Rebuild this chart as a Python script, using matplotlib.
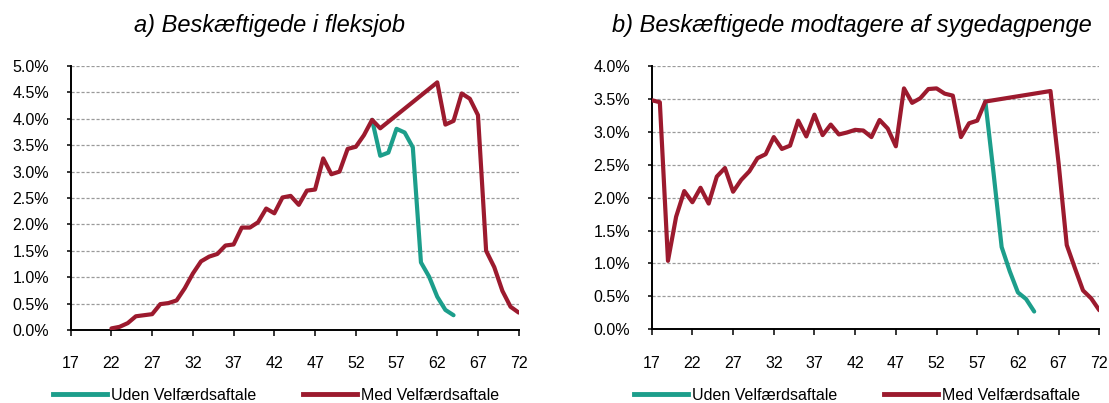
import matplotlib
matplotlib.use('Agg')
import matplotlib.pyplot as plt
from matplotlib.ticker import FuncFormatter, MultipleLocator
from matplotlib.lines import Line2D

plt.rcParams['font.family'] = ['Liberation Sans', 'DejaVu Sans']

# ---------------- data (percent) ----------------
x_ticks = [17, 22, 27, 32, 37, 42, 47, 52, 57, 62, 67, 72]

a_med_age = [22, 23, 24, 25, 26, 27, 28, 29, 30, 31, 32, 33, 34, 35, 36, 37, 38, 39, 40,
             41, 42, 43, 44, 45, 46, 47, 48, 49, 50, 51, 52, 53, 54, 55, 62, 63, 64, 65,
             66, 67, 68, 69, 70, 71, 72]
a_med = [0.03, 0.06, 0.13, 0.26, 0.28, 0.30, 0.49, 0.51, 0.56, 0.79, 1.07, 1.30, 1.39, 1.44,
         1.60, 1.62, 1.94, 1.94, 2.04, 2.30, 2.21, 2.51, 2.54, 2.37, 2.64, 2.66, 3.25, 2.95,
         3.00, 3.43, 3.47, 3.69, 3.98, 3.82, 4.69, 3.89, 3.96, 4.48, 4.38, 4.07, 1.50, 1.19,
         0.74, 0.44, 0.33]
a_uden_age = [54, 55, 56, 57, 58, 59, 60, 61, 62, 63, 64]
a_uden = [3.98, 3.30, 3.36, 3.81, 3.74, 3.46, 1.28, 1.01, 0.63, 0.38, 0.28]

b_med_age = [17, 18, 19, 20, 21, 22, 23, 24, 25, 26, 27, 28, 29, 30, 31, 32, 33, 34, 35,
             36, 37, 38, 39, 40, 41, 42, 43, 44, 45, 46, 47, 48, 49, 50, 51, 52, 53, 54,
             55, 56, 57, 58, 66, 67, 68, 69, 70, 71, 72]
b_med = [3.48, 3.45, 1.04, 1.71, 2.10, 1.93, 2.15, 1.91, 2.32, 2.45, 2.09, 2.27, 2.40, 2.60,
         2.66, 2.92, 2.74, 2.79, 3.17, 2.93, 3.26, 2.95, 3.11, 2.96, 2.99, 3.03, 3.02, 2.92,
         3.18, 3.05, 2.78, 3.66, 3.44, 3.51, 3.65, 3.66, 3.58, 3.55, 2.92, 3.13, 3.17, 3.46,
         3.62, 2.52, 1.28, 0.93, 0.59, 0.47, 0.29]
b_uden_age = [58, 59, 60, 61, 62, 63, 64]
b_uden = [3.46, 2.38, 1.25, 0.88, 0.56, 0.46, 0.27]

titles = ["a) Beskæftigede i fleksjob", "b) Beskæftigede modtagere af sygedagpenge"]
labels = ["Uden Velfærdsaftale", "Med Velfærdsaftale"]

GREEN = '#1c9e8b'
RED = '#9c1a2e'

W, H = 1109, 403
fig = plt.figure(figsize=(W / 100, H / 100), dpi=100)

def px(x0, y_top, x1, y_bot):
    return [x0 / W, 1 - y_bot / H, (x1 - x0) / W, (y_bot - y_top) / H]

panels = [
    dict(rect=px(70.7, 66, 518.7, 330), ymax=5.0, med=(a_med_age, a_med),
         uden=(a_uden_age, a_uden), title_x=270, leg_x=276),
    dict(rect=px(651.7, 66, 1099.3, 329.3), ymax=4.0, med=(b_med_age, b_med),
         uden=(b_uden_age, b_uden), title_x=851.5, leg_x=857),
]

for i, p in enumerate(panels):
    ax = fig.add_axes(p['rect'])
    ax.plot(*p['uden'], color=GREEN, lw=3, solid_joinstyle='round',
            solid_capstyle='round', zorder=3)
    ax.plot(*p['med'], color=RED, lw=3, solid_joinstyle='round',
            solid_capstyle='round', zorder=4)
    ax.set_xlim(17, 72)
    ax.set_ylim(0, p['ymax'])
    ax.set_xticks(x_ticks)
    ax.yaxis.set_major_locator(MultipleLocator(0.5))
    ax.yaxis.set_major_formatter(FuncFormatter(lambda v, _: f"{v:.1f}%"))
    ax.grid(axis='y', color='#9a9a9a', lw=0.9, linestyle=(0, (2.5, 1.5)))
    ax.set_axisbelow(True)
    for s in ['top', 'right']:
        ax.spines[s].set_visible(False)
    for s in ['left', 'bottom']:
        ax.spines[s].set_linewidth(1.4)
        ax.spines[s].set_color('black')
    ax.tick_params(axis='x', direction='out', length=4, width=1.1, pad=15,
                   labelsize=11.5, colors='black')
    ax.tick_params(axis='y', direction='out', length=3, width=1.1, pad=12.5,
                   labelsize=11.5, colors='black')
    fig.text(p['title_x'] / W, 1 - 32 / H, titles[i], ha='center', va='baseline',
             fontsize=17, style='italic')
    handles = [Line2D([], [], color=GREEN, lw=3.5), Line2D([], [], color=RED, lw=3.5)]
    fig.legend(handles, labels, loc='center', bbox_to_anchor=(p['leg_x'] / W, 1 - 395 / H),
               ncol=2, frameon=False, fontsize=11.5, handlelength=3.4, handletextpad=0.25,
               columnspacing=2.9)

fig.savefig('out.png', dpi=100)
